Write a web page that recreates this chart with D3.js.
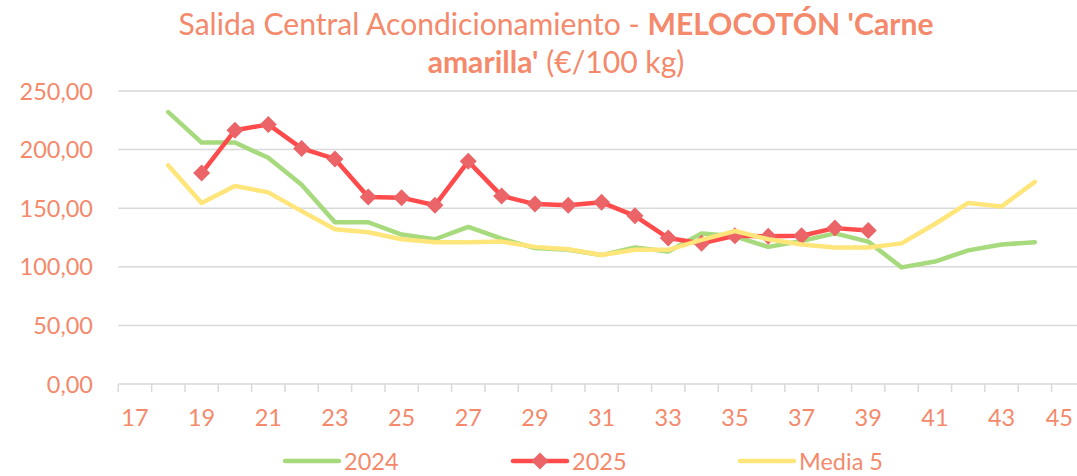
<!DOCTYPE html>
<html>
<head>
<meta charset="utf-8">
<script src="https://cdn.jsdelivr.net/npm/d3@7"></script>
<style>
  body { margin: 0; background: #fff; }
  svg text { font-family: Lato, "Open Sans", sans-serif; fill: #F4896B; }
</style>
</head>
<body>
<div class="chart"></div>
<script>
// axis categories (weeks)
const weeks = d3.range(17, 46);
const tick_labels = d3.range(17, 46, 2);
const y_ticks = [0, 50, 100, 150, 200, 250];

// series
const weeks_2024 = d3.range(18, 45);
const values_2024 = [232, 206, 206, 193, 170, 138, 138, 127.5, 123.5, 134, 124, 116, 114.5, 110,
    116.5, 113, 128.5, 126, 117, 122, 128.5, 121.5, 99.5, 104.5, 114, 119, 121];

const weeks_2025 = d3.range(19, 40);
const values_2025 = [180, 216.5, 221.5, 201, 192, 159.5, 159, 152.5, 190, 160.5, 153.5, 152.5, 155,
    143.5, 124.5, 120, 126.5, 126, 126.5, 133, 131];

const weeks_media = d3.range(18, 45);
const values_media = [186.5, 154.5, 169, 163.5, 147.5, 132, 129.5, 123.5, 121, 121, 121.5, 117, 115, 110,
    114.5, 114.5, 123, 130.5, 123.5, 119, 116.5, 116.5, 120, 136.5, 154.5, 151.5, 172.5];

const series = [
    { name: "2024", weeks: weeks_2024, values: values_2024, color: "#A6DA7C", marker: false },
    { name: "2025", weeks: weeks_2025, values: values_2025, color: "#FF4B4B", marker: true },
    { name: "Media 5", weeks: weeks_media, values: values_media, color: "#FFE57A", marker: false }
];

const width = 1077, height = 476;
const text_color = "#F4896B";
const grid_color = "#D9D9D9";
const marker_color = "#EA6468";
const line_width = 4.5;

const svg = d3.select(".chart").append("svg")
    .attr("width", width)
    .attr("height", height);

const x_scale = d3.scaleBand()
    .domain(weeks)
    .range([118.3, 118.3 + 29 * 33.33])
    .padding(0);

const cx = function(w) { return x_scale(w) + x_scale.bandwidth() / 2; };

const y_scale = d3.scaleLinear()
    .domain([0, 250])
    .range([384, 91]);

// gridlines
svg.append("g")
    .selectAll("line")
    .data(y_ticks.filter(function(d) { return d > 0; }))
    .enter()
    .append("line")
    .attr("x1", x_scale.range()[0])
    .attr("x2", width)
    .attr("y1", function(d) { return y_scale(d); })
    .attr("y2", function(d) { return y_scale(d); })
    .attr("stroke", grid_color)
    .attr("stroke-width", 1.5);

// y labels
svg.append("g")
    .selectAll("text")
    .data(y_ticks)
    .enter()
    .append("text")
    .attr("x", 93)
    .attr("y", function(d) { return y_scale(d) + 8.5; })
    .attr("text-anchor", "end")
    .attr("font-size", 23.5)
    .text(function(d) { return d3.format(".2f")(d).replace(".", ","); });

// x axis
const x_axis = svg.append("g").attr("transform", "translate(0,384)");
x_axis.append("line")
    .attr("x1", x_scale.range()[0])
    .attr("x2", width)
    .attr("stroke", grid_color)
    .attr("stroke-width", 1.5);
x_axis.selectAll("line.tick")
    .data(weeks)
    .enter()
    .append("line")
    .attr("class", "tick")
    .attr("x1", function(d) { return x_scale(d); })
    .attr("x2", function(d) { return x_scale(d); })
    .attr("y1", 0)
    .attr("y2", 8)
    .attr("stroke", grid_color)
    .attr("stroke-width", 1.5);
x_axis.selectAll("text")
    .data(tick_labels)
    .enter()
    .append("text")
    .attr("x", cx)
    .attr("y", 42)
    .attr("text-anchor", "middle")
    .attr("font-size", 23.5)
    .text(function(d) { return d; })
    .each(function() {
        // keep the last label inside the picture
        const box = this.getBBox();
        if (box.x + box.width > width - 4) {
            d3.select(this).attr("x", +d3.select(this).attr("x") - (box.x + box.width - (width - 4)));
        }
    });

// lines
const line = d3.line()
    .x(function(d) { return cx(d.week); })
    .y(function(d) { return y_scale(d.value); });

const diamond = "M0,-8.5L8.5,0L0,8.5L-8.5,0Z";

series.forEach(function(s) {
    const pts = s.weeks.map(function(w, i) { return { week: w, value: s.values[i] }; });
    const g = svg.append("g");
    g.append("path")
        .datum(pts)
        .attr("d", line)
        .attr("fill", "none")
        .attr("stroke", s.color)
        .attr("stroke-width", line_width)
        .attr("stroke-linejoin", "round")
        .attr("stroke-linecap", "round");
    if (s.marker) {
        g.selectAll("path.marker")
            .data(pts)
            .enter()
            .append("path")
            .attr("class", "marker")
            .attr("d", diamond)
            .attr("fill", marker_color)
            .attr("transform", function(d) {
                return "translate(" + cx(d.week) + "," + y_scale(d.value) + ")";
            });
    }
});

// legend
const legend_items = [
    { s: series[0], x: 285 },
    { s: series[1], x: 513 },
    { s: series[2], x: 740 }
];
const legend = svg.append("g").attr("transform", "translate(0,461)");
legend_items.forEach(function(item) {
    legend.append("line")
        .attr("x1", item.x)
        .attr("x2", item.x + 54)
        .attr("stroke", item.s.color)
        .attr("stroke-width", line_width)
        .attr("stroke-linecap", "round");
    if (item.s.marker) {
        legend.append("path")
            .attr("d", diamond)
            .attr("fill", marker_color)
            .attr("transform", "translate(" + (item.x + 27) + ",0)");
    }
    legend.append("text")
        .attr("x", item.x + 59)
        .attr("y", 8.5)
        .attr("font-size", 23.5)
        .text(item.s.name);
});

// title
const title = svg.append("text")
    .attr("text-anchor", "middle")
    .attr("font-size", 32);
const t1 = title.append("tspan").attr("x", 556).attr("y", 35);
t1.append("tspan").text("Salida Central Acondicionamiento - ");
t1.append("tspan").attr("font-weight", "bold").text("MELOCOTÓN 'Carne");
const t2 = title.append("tspan").attr("x", 556).attr("y", 73);
t2.append("tspan").attr("font-weight", "bold").text("amarilla'");
t2.append("tspan").text(" (€/100 kg)");

// fit title width to the reference line width
const w1 = t1.node().getComputedTextLength();
title.attr("font-size", 32 * 755 / w1);
</script>
</body>
</html>
